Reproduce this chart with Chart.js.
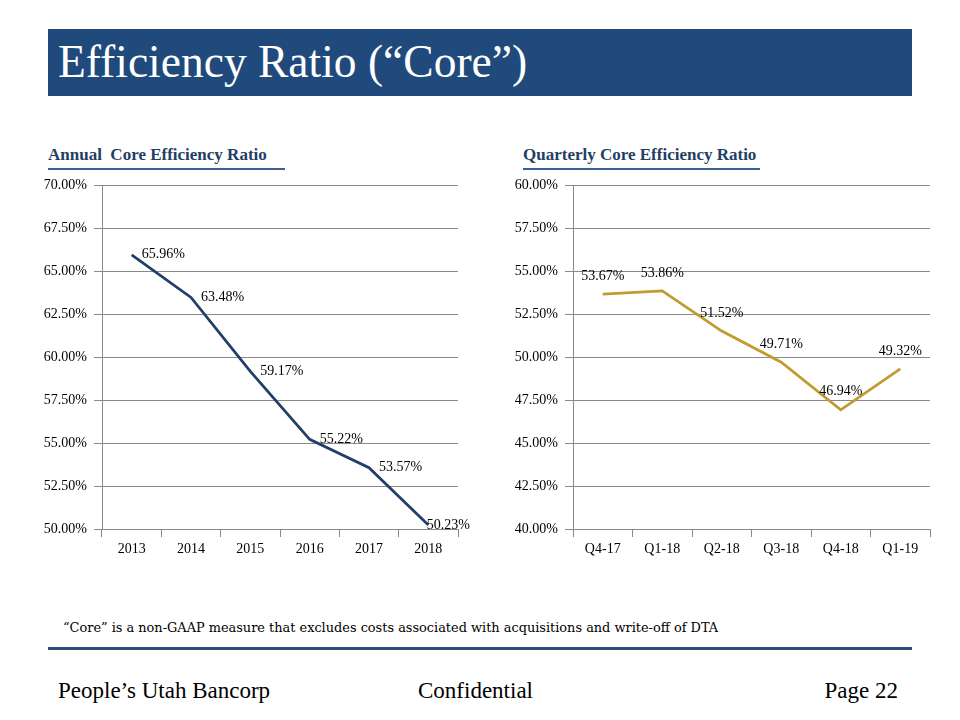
<!DOCTYPE html>
<html><head><meta charset="utf-8">
<script src="https://cdn.jsdelivr.net/npm/chart.js@4"></script>
<style>
body{margin:0;width:960px;height:720px;background:#fff;position:relative;overflow:hidden;font-family:"Liberation Serif",serif;}
.abs{position:absolute;white-space:nowrap;}
.bar{left:48px;top:29px;width:864px;height:67px;background:#214A7C;}
.title{left:58px;top:40px;color:#fff;font-size:45.5px;line-height:44px;}
.sub{top:147px;font-size:17px;line-height:16px;font-weight:bold;color:#1F3F66;}
.uline{top:168px;height:2px;background:#3A6290;}
.note{left:63px;top:621px;font-family:"DejaVu Serif",serif;font-size:12.9px;line-height:13px;color:#000;}
.rule{left:48px;top:647px;width:864px;height:3px;background:#2C4E78;}
.foot{top:680px;font-size:23px;line-height:22px;color:#000;}
canvas{position:absolute;}
</style></head>
<body>
<div class="abs bar"></div>
<div class="abs title">Efficiency Ratio (“Core”)</div>
<div class="abs sub" style="left:48px;">Annual&nbsp; Core Efficiency Ratio</div>
<div class="abs uline" style="left:48px;width:237px;"></div>
<div class="abs sub" style="left:523px;">Quarterly Core Efficiency Ratio</div>
<div class="abs uline" style="left:523px;width:237px;"></div>
<canvas id="c1" width="460" height="400" style="left:30px;top:170px;"></canvas>
<canvas id="c2" width="460" height="400" style="left:490px;top:170px;"></canvas>
<div class="abs note">“Core” is a non-GAAP measure that excludes costs associated with acquisitions and write-off of DTA</div>
<div class="abs rule"></div>
<div class="abs foot" style="left:58px;">People’s Utah Bancorp</div>
<div class="abs foot" style="left:418px;">Confidential</div>
<div class="abs foot" style="right:62px;">Page 22</div>
<script>
const annualCategories = ['2013','2014','2015','2016','2017','2018'];
const annualValues = [65.96, 63.48, 59.17, 55.22, 53.57, 50.23];
const quarterCategories = ['Q4-17','Q1-18','Q2-18','Q3-18','Q4-18','Q1-19'];
const quarterValues = [53.67, 53.86, 51.52, 49.71, 46.94, 49.32];
const annualAxis = [50, 70];
const quarterAxis = [40, 60];
const axisStep = 2.5;

const GRID = '#898989';
const FONT = {family:'Liberation Serif', size:14};

const labelPlugin = {
  id:'pctLabels',
  afterDatasetsDraw(chart, args, opts){
    const ctx = chart.ctx;
    const meta = chart.getDatasetMeta(0);
    const data = chart.data.datasets[0].data;
    ctx.save();
    ctx.font = '14px "Liberation Serif"';
    ctx.fillStyle = '#000';
    ctx.textBaseline = 'middle';
    meta.data.forEach((pt, i) => {
      const txt = data[i].toFixed(2) + '%';
      if (opts.position === 'right') {
        ctx.textAlign = 'left';
        const w = ctx.measureText(txt).width;
        const x = Math.min(pt.x + 10, opts.maxRight - w);
        ctx.fillText(txt, x, pt.y);
      } else {
        ctx.textAlign = 'center';
        ctx.fillText(txt, pt.x, pt.y - 18);
      }
    });
    ctx.restore();
  }
};

function makeChart(id, cats, vals, range, color, yWidth, padRight, pos, maxRight){
  return new Chart(document.getElementById(id), {
    type:'line',
    data:{labels:cats, datasets:[{data:vals, borderColor:color, borderWidth:2.75, pointRadius:0, tension:0, fill:false}]},
    options:{
      responsive:false, animation:false,
      layout:{padding:{top:14, right:padRight, bottom:0, left:0}},
      plugins:{legend:{display:false}, tooltip:{enabled:false}, pctLabels:{position:pos, maxRight:maxRight}},
      scales:{
        x:{offset:true,
           grid:{display:true, drawOnChartArea:false, offset:true, tickLength:8, tickColor:GRID},
           border:{color:GRID, width:1},
           ticks:{color:'#000', font:FONT, padding:4, maxRotation:0, autoSkip:false},
           afterFit(s){ s.height = 41; }},
        y:{min:range[0], max:range[1],
           grid:{color:GRID, tickLength:8, tickColor:GRID},
           border:{color:GRID, width:1},
           ticks:{stepSize:axisStep, color:'#000', font:FONT, padding:7, callback:v=>v.toFixed(2)+'%'},
           afterFit(s){ s.width = yWidth; }}
      }
    },
    plugins:[labelPlugin]
  });
}
makeChart('c1', annualCategories, annualValues, annualAxis, '#203F6A', 72, 32, 'right', 440);
makeChart('c2', quarterCategories, quarterValues, quarterAxis, '#C19B2E', 83, 20, 'above', 460);
</script>
</body></html>
